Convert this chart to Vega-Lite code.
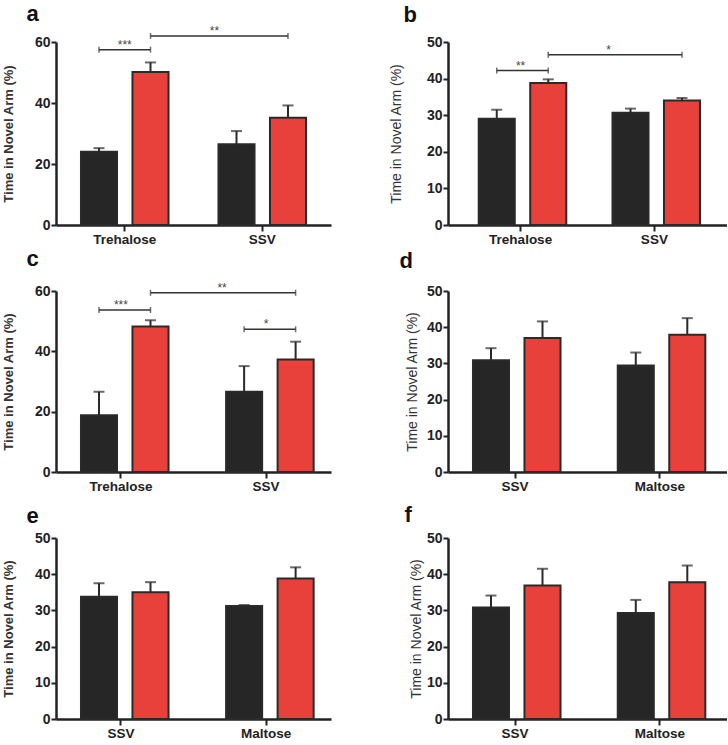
{
  "$schema": "https://vega.github.io/schema/vega-lite/v6.json",
  "padding": {"left": 2, "top": 2, "right": 0, "bottom": 0},
  "background": "white",
  "config": {
    "view": {"stroke": null},
    "axis": {"domainColor": "#222", "domainWidth": 2.5, "tickColor": "#222", "tickWidth": 2, "tickSize": 5, "labelFont": "Liberation Sans", "labelFontSize": 14, "labelFontWeight": "bold", "labelColor": "#222", "labelPadding": 1, "titleFont": "Liberation Sans", "titleColor": "#333", "titleFontSize": 13, "grid": false},
    "axisX": {"labelAngle": 0, "tickSize": 6, "labelPadding": 1, "labelFontSize": 13.5},
    "title": {"anchor": "start", "frame": "bounds", "fontSize": 22, "fontWeight": "bold", "font": "Liberation Sans", "color": "#111", "offset": 10}
  },
  "datasets": {
    "bars": [
      {"p": "a", "g": "Trehalose", "c": "Control", "mean": 24.0, "upper": 25.2},
      {"p": "a", "g": "Trehalose", "c": "Sugar", "mean": 50.2, "upper": 53.3},
      {"p": "a", "g": "SSV", "c": "Control", "mean": 26.5, "upper": 30.8},
      {"p": "a", "g": "SSV", "c": "Sugar", "mean": 35.2, "upper": 39.2},
      {"p": "b", "g": "Trehalose", "c": "Control", "mean": 29.0, "upper": 31.5},
      {"p": "b", "g": "Trehalose", "c": "Sugar", "mean": 38.8, "upper": 39.8},
      {"p": "b", "g": "SSV", "c": "Control", "mean": 30.7, "upper": 31.8},
      {"p": "b", "g": "SSV", "c": "Sugar", "mean": 34.0, "upper": 34.7},
      {"p": "c", "g": "Trehalose", "c": "Control", "mean": 18.8, "upper": 26.6},
      {"p": "c", "g": "Trehalose", "c": "Sugar", "mean": 48.2, "upper": 50.3},
      {"p": "c", "g": "SSV", "c": "Control", "mean": 26.6, "upper": 35.1},
      {"p": "c", "g": "SSV", "c": "Sugar", "mean": 37.3, "upper": 43.2},
      {"p": "d", "g": "SSV", "c": "Control", "mean": 30.9, "upper": 34.2},
      {"p": "d", "g": "SSV", "c": "Sugar", "mean": 37.0, "upper": 41.6},
      {"p": "d", "g": "Maltose", "c": "Control", "mean": 29.4, "upper": 33.0},
      {"p": "d", "g": "Maltose", "c": "Sugar", "mean": 37.9, "upper": 42.5},
      {"p": "e", "g": "SSV", "c": "Control", "mean": 33.8, "upper": 37.5},
      {"p": "e", "g": "SSV", "c": "Sugar", "mean": 35.0, "upper": 37.8},
      {"p": "e", "g": "Maltose", "c": "Control", "mean": 31.2, "upper": 31.5},
      {"p": "e", "g": "Maltose", "c": "Sugar", "mean": 38.8, "upper": 41.9},
      {"p": "f", "g": "SSV", "c": "Control", "mean": 30.8, "upper": 34.1},
      {"p": "f", "g": "SSV", "c": "Sugar", "mean": 36.9, "upper": 41.5},
      {"p": "f", "g": "Maltose", "c": "Control", "mean": 29.3, "upper": 32.9},
      {"p": "f", "g": "Maltose", "c": "Sugar", "mean": 37.8, "upper": 42.4}
    ],
    "brk": [
      {"p": "a", "id": "a1", "g": "Trehalose", "c": "Control", "y": 57.5},
      {"p": "a", "id": "a1", "g": "Trehalose", "c": "Sugar", "y": 57.5},
      {"p": "a", "id": "a2", "g": "Trehalose", "c": "Sugar", "y": 62.0},
      {"p": "a", "id": "a2", "g": "SSV", "c": "Sugar", "y": 62.0},
      {"p": "b", "id": "b1", "g": "Trehalose", "c": "Control", "y": 42.2},
      {"p": "b", "id": "b1", "g": "Trehalose", "c": "Sugar", "y": 42.2},
      {"p": "b", "id": "b2", "g": "Trehalose", "c": "Sugar", "y": 46.5},
      {"p": "b", "id": "b2", "g": "SSV", "c": "Sugar", "y": 46.5},
      {"p": "c", "id": "c1", "g": "Trehalose", "c": "Control", "y": 53.7},
      {"p": "c", "id": "c1", "g": "Trehalose", "c": "Sugar", "y": 53.7},
      {"p": "c", "id": "c2", "g": "Trehalose", "c": "Sugar", "y": 59.4},
      {"p": "c", "id": "c2", "g": "SSV", "c": "Sugar", "y": 59.4},
      {"p": "c", "id": "c3", "g": "SSV", "c": "Control", "y": 47.3},
      {"p": "c", "id": "c3", "g": "SSV", "c": "Sugar", "y": 47.3}
    ],
    "sig": [
      {"p": "a", "kind": "within", "g": "Trehalose", "c": "Control", "y": 57.5, "label": "***"},
      {"p": "a", "kind": "across", "g": "SSV", "c": "Control", "y": 62.0, "label": "**"},
      {"p": "b", "kind": "within", "g": "Trehalose", "c": "Control", "y": 42.2, "label": "**"},
      {"p": "b", "kind": "across", "g": "SSV", "c": "Control", "y": 46.5, "label": "*"},
      {"p": "c", "kind": "within", "g": "Trehalose", "c": "Control", "y": 53.7, "label": "***"},
      {"p": "c", "kind": "across", "g": "SSV", "c": "Control", "y": 59.4, "label": "**"},
      {"p": "c", "kind": "within", "g": "SSV", "c": "Control", "y": 47.3, "label": "*"}
    ]
  },
  "columns": 2,
  "spacing": {"column": 117, "row": 66},
  "bounds": "flush",
  "concat": [
    {
      "width": 275, "height": 183,
      "title": {"text": "a", "dx": 24, "offset": -1},
      "layer": [
        {"data": {"name": "bars"}, "transform": [{"filter": "datum.p == 'a'"}],
         "mark": {"type": "bar", "stroke": "#2a2a2a", "strokeWidth": 2},
         "encoding": {
           "x": {"field": "g", "type": "nominal", "title": null, "scale": {"domain": ["Trehalose", "SSV"], "paddingInner": 0, "paddingOuter": 0}},
           "xOffset": {"field": "c", "type": "nominal", "scale": {"domain": ["Control", "Sugar"], "paddingInner": 0.3, "paddingOuter": 0.485}},
           "y": {"field": "mean", "type": "quantitative", "title": "Time in Novel Arm (%)", "scale": {"domain": [0, 60], "nice": false}, "axis": {"values": [0, 20, 40, 60], "tickCount": 4, "labelOverlap": false, "titleFontWeight": "bold", "titlePadding": 19}},
           "color": {"field": "c", "type": "nominal", "scale": {"domain": ["Control", "Sugar"], "range": ["#262626", "#e8413b"]}, "legend": null}
         }},
        {"data": {"name": "bars"}, "transform": [{"filter": "datum.p == 'a'"}],
         "mark": {"type": "rule", "color": "#2a2a2a", "strokeWidth": 2},
         "encoding": {"x": {"field": "g", "type": "nominal", "title": null}, "xOffset": {"field": "c", "type": "nominal"}, "y": {"field": "mean", "type": "quantitative", "title": "Time in Novel Arm (%)", "axis": {"values": [0, 20, 40, 60], "tickCount": 4, "labelOverlap": false, "titleFontWeight": "bold", "titlePadding": 19}}, "y2": {"field": "upper"}}},
        {"data": {"name": "bars"}, "transform": [{"filter": "datum.p == 'a'"}],
         "mark": {"type": "tick", "orient": "horizontal", "size": 11, "thickness": 2, "color": "#2a2a2a"},
         "encoding": {"x": {"field": "g", "type": "nominal", "title": null}, "xOffset": {"field": "c", "type": "nominal"}, "y": {"field": "upper", "type": "quantitative", "title": "Time in Novel Arm (%)", "axis": {"values": [0, 20, 40, 60], "tickCount": 4, "labelOverlap": false, "titleFontWeight": "bold", "titlePadding": 19}}}},
        {"data": {"name": "brk"}, "transform": [{"filter": "datum.p == 'a'"}],
         "mark": {"type": "line", "color": "#333", "strokeWidth": 1.5},
         "encoding": {"x": {"field": "g", "type": "nominal", "title": null}, "xOffset": {"field": "c", "type": "nominal"}, "y": {"field": "y", "type": "quantitative", "title": "Time in Novel Arm (%)", "axis": {"values": [0, 20, 40, 60], "tickCount": 4, "labelOverlap": false, "titleFontWeight": "bold", "titlePadding": 19}}, "detail": {"field": "id"}}},
        {"data": {"name": "brk"}, "transform": [{"filter": "datum.p == 'a'"}],
         "mark": {"type": "tick", "orient": "vertical", "size": 6, "thickness": 1.5, "color": "#333"},
         "encoding": {"x": {"field": "g", "type": "nominal", "title": null}, "xOffset": {"field": "c", "type": "nominal"}, "y": {"field": "y", "type": "quantitative", "title": "Time in Novel Arm (%)", "axis": {"values": [0, 20, 40, 60], "tickCount": 4, "labelOverlap": false, "titleFontWeight": "bold", "titlePadding": 19}}}},
        {"data": {"name": "sig"}, "transform": [{"filter": "datum.p == 'a' && datum.kind == 'within'"}],
         "mark": {"type": "text", "font": "Liberation Sans", "fontSize": 12, "color": "#444", "baseline": "alphabetic", "dy": -1},
         "encoding": {"x": {"field": "g", "type": "nominal", "title": null}, "y": {"field": "y", "type": "quantitative", "title": "Time in Novel Arm (%)", "axis": {"values": [0, 20, 40, 60], "tickCount": 4, "labelOverlap": false, "titleFontWeight": "bold", "titlePadding": 19}}, "text": {"field": "label"}}},
        {"data": {"name": "sig"}, "transform": [{"filter": "datum.p == 'a' && datum.kind == 'across'"}],
         "mark": {"type": "text", "font": "Liberation Sans", "fontSize": 12, "color": "#444", "baseline": "alphabetic", "dy": -1, "dx": -22},
         "encoding": {"x": {"field": "g", "type": "nominal", "title": null}, "xOffset": {"field": "c", "type": "nominal"}, "y": {"field": "y", "type": "quantitative", "title": "Time in Novel Arm (%)", "axis": {"values": [0, 20, 40, 60], "tickCount": 4, "labelOverlap": false, "titleFontWeight": "bold", "titlePadding": 19}}, "text": {"field": "label"}}}
      ]
    },
    {
      "width": 279, "height": 183,
      "title": {"text": "b", "dx": 14, "offset": 8},
      "layer": [
        {"data": {"name": "bars"}, "transform": [{"filter": "datum.p == 'b'"}],
         "mark": {"type": "bar", "stroke": "#2a2a2a", "strokeWidth": 2},
         "encoding": {
           "x": {"field": "g", "type": "nominal", "title": null, "scale": {"domain": ["Trehalose", "SSV"], "paddingInner": 0, "paddingOuter": 0.043}},
           "xOffset": {"field": "c", "type": "nominal", "scale": {"domain": ["Control", "Sugar"], "paddingInner": 0.294, "paddingOuter": 0.46}},
           "y": {"field": "mean", "type": "quantitative", "title": "Time in Novel Arm (%)", "scale": {"domain": [0, 50], "nice": false}, "axis": {"values": [0, 10, 20, 30, 40, 50], "tickCount": 6, "labelOverlap": false, "titleFontWeight": "normal", "titleFontSize": 14, "titlePadding": 23}},
           "color": {"field": "c", "type": "nominal", "scale": {"domain": ["Control", "Sugar"], "range": ["#262626", "#e8413b"]}, "legend": null}
         }},
        {"data": {"name": "bars"}, "transform": [{"filter": "datum.p == 'b'"}],
         "mark": {"type": "rule", "color": "#2a2a2a", "strokeWidth": 2},
         "encoding": {"x": {"field": "g", "type": "nominal", "title": null}, "xOffset": {"field": "c", "type": "nominal"}, "y": {"field": "mean", "type": "quantitative", "title": "Time in Novel Arm (%)", "axis": {"values": [0, 10, 20, 30, 40, 50], "tickCount": 6, "labelOverlap": false, "titleFontWeight": "normal", "titleFontSize": 14, "titlePadding": 23}}, "y2": {"field": "upper"}}},
        {"data": {"name": "bars"}, "transform": [{"filter": "datum.p == 'b'"}],
         "mark": {"type": "tick", "orient": "horizontal", "size": 11, "thickness": 2, "color": "#2a2a2a"},
         "encoding": {"x": {"field": "g", "type": "nominal", "title": null}, "xOffset": {"field": "c", "type": "nominal"}, "y": {"field": "upper", "type": "quantitative", "title": "Time in Novel Arm (%)", "axis": {"values": [0, 10, 20, 30, 40, 50], "tickCount": 6, "labelOverlap": false, "titleFontWeight": "normal", "titleFontSize": 14, "titlePadding": 23}}}},
        {"data": {"name": "brk"}, "transform": [{"filter": "datum.p == 'b'"}],
         "mark": {"type": "line", "color": "#333", "strokeWidth": 1.5},
         "encoding": {"x": {"field": "g", "type": "nominal", "title": null}, "xOffset": {"field": "c", "type": "nominal"}, "y": {"field": "y", "type": "quantitative", "title": "Time in Novel Arm (%)", "axis": {"values": [0, 10, 20, 30, 40, 50], "tickCount": 6, "labelOverlap": false, "titleFontWeight": "normal", "titleFontSize": 14, "titlePadding": 23}}, "detail": {"field": "id"}}},
        {"data": {"name": "brk"}, "transform": [{"filter": "datum.p == 'b'"}],
         "mark": {"type": "tick", "orient": "vertical", "size": 6, "thickness": 1.5, "color": "#333"},
         "encoding": {"x": {"field": "g", "type": "nominal", "title": null}, "xOffset": {"field": "c", "type": "nominal"}, "y": {"field": "y", "type": "quantitative", "title": "Time in Novel Arm (%)", "axis": {"values": [0, 10, 20, 30, 40, 50], "tickCount": 6, "labelOverlap": false, "titleFontWeight": "normal", "titleFontSize": 14, "titlePadding": 23}}}},
        {"data": {"name": "sig"}, "transform": [{"filter": "datum.p == 'b' && datum.kind == 'within'"}],
         "mark": {"type": "text", "font": "Liberation Sans", "fontSize": 12, "color": "#444", "baseline": "alphabetic", "dy": -1},
         "encoding": {"x": {"field": "g", "type": "nominal", "title": null}, "y": {"field": "y", "type": "quantitative", "title": "Time in Novel Arm (%)", "axis": {"values": [0, 10, 20, 30, 40, 50], "tickCount": 6, "labelOverlap": false, "titleFontWeight": "normal", "titleFontSize": 14, "titlePadding": 23}}, "text": {"field": "label"}}},
        {"data": {"name": "sig"}, "transform": [{"filter": "datum.p == 'b' && datum.kind == 'across'"}],
         "mark": {"type": "text", "font": "Liberation Sans", "fontSize": 12, "color": "#444", "baseline": "alphabetic", "dy": -1, "dx": -22},
         "encoding": {"x": {"field": "g", "type": "nominal", "title": null}, "xOffset": {"field": "c", "type": "nominal"}, "y": {"field": "y", "type": "quantitative", "title": "Time in Novel Arm (%)", "axis": {"values": [0, 10, 20, 30, 40, 50], "tickCount": 6, "labelOverlap": false, "titleFontWeight": "normal", "titleFontSize": 14, "titlePadding": 23}}, "text": {"field": "label"}}}
      ]
    },
    {
      "width": 275, "height": 181,
      "title": {"text": "c", "dx": 24, "offset": 11},
      "layer": [
        {"data": {"name": "bars"}, "transform": [{"filter": "datum.p == 'c'"}],
         "mark": {"type": "bar", "stroke": "#2a2a2a", "strokeWidth": 2},
         "encoding": {
           "x": {"field": "g", "type": "nominal", "title": null, "scale": {"domain": ["Trehalose", "SSV"], "paddingInner": 0.105, "paddingOuter": 0}},
           "xOffset": {"field": "c", "type": "nominal", "scale": {"domain": ["Control", "Sugar"], "paddingInner": 0.3, "paddingOuter": 0.363}},
           "y": {"field": "mean", "type": "quantitative", "title": "Time in Novel Arm (%)", "scale": {"domain": [0, 60], "nice": false}, "axis": {"values": [0, 20, 40, 60], "tickCount": 4, "labelOverlap": false, "titleFontWeight": "bold", "titlePadding": 19}},
           "color": {"field": "c", "type": "nominal", "scale": {"domain": ["Control", "Sugar"], "range": ["#262626", "#e8413b"]}, "legend": null}
         }},
        {"data": {"name": "bars"}, "transform": [{"filter": "datum.p == 'c'"}],
         "mark": {"type": "rule", "color": "#2a2a2a", "strokeWidth": 2},
         "encoding": {"x": {"field": "g", "type": "nominal", "title": null}, "xOffset": {"field": "c", "type": "nominal"}, "y": {"field": "mean", "type": "quantitative", "title": "Time in Novel Arm (%)", "axis": {"values": [0, 20, 40, 60], "tickCount": 4, "labelOverlap": false, "titleFontWeight": "bold", "titlePadding": 19}}, "y2": {"field": "upper"}}},
        {"data": {"name": "bars"}, "transform": [{"filter": "datum.p == 'c'"}],
         "mark": {"type": "tick", "orient": "horizontal", "size": 11, "thickness": 2, "color": "#2a2a2a"},
         "encoding": {"x": {"field": "g", "type": "nominal", "title": null}, "xOffset": {"field": "c", "type": "nominal"}, "y": {"field": "upper", "type": "quantitative", "title": "Time in Novel Arm (%)", "axis": {"values": [0, 20, 40, 60], "tickCount": 4, "labelOverlap": false, "titleFontWeight": "bold", "titlePadding": 19}}}},
        {"data": {"name": "brk"}, "transform": [{"filter": "datum.p == 'c'"}],
         "mark": {"type": "line", "color": "#333", "strokeWidth": 1.5},
         "encoding": {"x": {"field": "g", "type": "nominal", "title": null}, "xOffset": {"field": "c", "type": "nominal"}, "y": {"field": "y", "type": "quantitative", "title": "Time in Novel Arm (%)", "axis": {"values": [0, 20, 40, 60], "tickCount": 4, "labelOverlap": false, "titleFontWeight": "bold", "titlePadding": 19}}, "detail": {"field": "id"}}},
        {"data": {"name": "brk"}, "transform": [{"filter": "datum.p == 'c'"}],
         "mark": {"type": "tick", "orient": "vertical", "size": 6, "thickness": 1.5, "color": "#333"},
         "encoding": {"x": {"field": "g", "type": "nominal", "title": null}, "xOffset": {"field": "c", "type": "nominal"}, "y": {"field": "y", "type": "quantitative", "title": "Time in Novel Arm (%)", "axis": {"values": [0, 20, 40, 60], "tickCount": 4, "labelOverlap": false, "titleFontWeight": "bold", "titlePadding": 19}}}},
        {"data": {"name": "sig"}, "transform": [{"filter": "datum.p == 'c' && datum.kind == 'within'"}],
         "mark": {"type": "text", "font": "Liberation Sans", "fontSize": 12, "color": "#444", "baseline": "alphabetic", "dy": -1},
         "encoding": {"x": {"field": "g", "type": "nominal", "title": null}, "y": {"field": "y", "type": "quantitative", "title": "Time in Novel Arm (%)", "axis": {"values": [0, 20, 40, 60], "tickCount": 4, "labelOverlap": false, "titleFontWeight": "bold", "titlePadding": 19}}, "text": {"field": "label"}}},
        {"data": {"name": "sig"}, "transform": [{"filter": "datum.p == 'c' && datum.kind == 'across'"}],
         "mark": {"type": "text", "font": "Liberation Sans", "fontSize": 12, "color": "#444", "baseline": "alphabetic", "dy": -1, "dx": -22},
         "encoding": {"x": {"field": "g", "type": "nominal", "title": null}, "xOffset": {"field": "c", "type": "nominal"}, "y": {"field": "y", "type": "quantitative", "title": "Time in Novel Arm (%)", "axis": {"values": [0, 20, 40, 60], "tickCount": 4, "labelOverlap": false, "titleFontWeight": "bold", "titlePadding": 19}}, "text": {"field": "label"}}}
      ]
    },
    {
      "width": 279, "height": 181,
      "title": {"text": "d", "dx": -6, "offset": 11},
      "layer": [
        {"data": {"name": "bars"}, "transform": [{"filter": "datum.p == 'd'"}],
         "mark": {"type": "bar", "stroke": "#2a2a2a", "strokeWidth": 2},
         "encoding": {
           "x": {"field": "g", "type": "nominal", "title": null, "scale": {"domain": ["SSV", "Maltose"], "paddingInner": 0.073, "paddingOuter": 0}},
           "xOffset": {"field": "c", "type": "nominal", "scale": {"domain": ["Control", "Sugar"], "paddingInner": 0.3, "paddingOuter": 0.41}},
           "y": {"field": "mean", "type": "quantitative", "title": "Time in Novel Arm (%)", "scale": {"domain": [0, 50], "nice": false}, "axis": {"values": [0, 10, 20, 30, 40, 50], "tickCount": 6, "labelOverlap": false, "titleFontWeight": "normal", "titleFontSize": 14, "titlePadding": 7}},
           "color": {"field": "c", "type": "nominal", "scale": {"domain": ["Control", "Sugar"], "range": ["#262626", "#e8413b"]}, "legend": null}
         }},
        {"data": {"name": "bars"}, "transform": [{"filter": "datum.p == 'd'"}],
         "mark": {"type": "rule", "color": "#2a2a2a", "strokeWidth": 2},
         "encoding": {"x": {"field": "g", "type": "nominal", "title": null}, "xOffset": {"field": "c", "type": "nominal"}, "y": {"field": "mean", "type": "quantitative", "title": "Time in Novel Arm (%)", "axis": {"values": [0, 10, 20, 30, 40, 50], "tickCount": 6, "labelOverlap": false, "titleFontWeight": "normal", "titleFontSize": 14, "titlePadding": 7}}, "y2": {"field": "upper"}}},
        {"data": {"name": "bars"}, "transform": [{"filter": "datum.p == 'd'"}],
         "mark": {"type": "tick", "orient": "horizontal", "size": 11, "thickness": 2, "color": "#2a2a2a"},
         "encoding": {"x": {"field": "g", "type": "nominal", "title": null}, "xOffset": {"field": "c", "type": "nominal"}, "y": {"field": "upper", "type": "quantitative", "title": "Time in Novel Arm (%)", "axis": {"values": [0, 10, 20, 30, 40, 50], "tickCount": 6, "labelOverlap": false, "titleFontWeight": "normal", "titleFontSize": 14, "titlePadding": 7}}}}
      ]
    },
    {
      "width": 275, "height": 181,
      "title": {"text": "e", "dx": 24, "offset": 3.5},
      "layer": [
        {"data": {"name": "bars"}, "transform": [{"filter": "datum.p == 'e'"}],
         "mark": {"type": "bar", "stroke": "#2a2a2a", "strokeWidth": 2},
         "encoding": {
           "x": {"field": "g", "type": "nominal", "title": null, "scale": {"domain": ["SSV", "Maltose"], "paddingInner": 0.105, "paddingOuter": 0}},
           "xOffset": {"field": "c", "type": "nominal", "scale": {"domain": ["Control", "Sugar"], "paddingInner": 0.3, "paddingOuter": 0.363}},
           "y": {"field": "mean", "type": "quantitative", "title": "Time in Novel Arm (%)", "scale": {"domain": [0, 50], "nice": false}, "axis": {"values": [0, 10, 20, 30, 40, 50], "tickCount": 6, "labelOverlap": false, "titleFontWeight": "bold", "titlePadding": 19}},
           "color": {"field": "c", "type": "nominal", "scale": {"domain": ["Control", "Sugar"], "range": ["#262626", "#e8413b"]}, "legend": null}
         }},
        {"data": {"name": "bars"}, "transform": [{"filter": "datum.p == 'e'"}],
         "mark": {"type": "rule", "color": "#2a2a2a", "strokeWidth": 2},
         "encoding": {"x": {"field": "g", "type": "nominal", "title": null}, "xOffset": {"field": "c", "type": "nominal"}, "y": {"field": "mean", "type": "quantitative", "title": "Time in Novel Arm (%)", "axis": {"values": [0, 10, 20, 30, 40, 50], "tickCount": 6, "labelOverlap": false, "titleFontWeight": "bold", "titlePadding": 19}}, "y2": {"field": "upper"}}},
        {"data": {"name": "bars"}, "transform": [{"filter": "datum.p == 'e'"}],
         "mark": {"type": "tick", "orient": "horizontal", "size": 11, "thickness": 2, "color": "#2a2a2a"},
         "encoding": {"x": {"field": "g", "type": "nominal", "title": null}, "xOffset": {"field": "c", "type": "nominal"}, "y": {"field": "upper", "type": "quantitative", "title": "Time in Novel Arm (%)", "axis": {"values": [0, 10, 20, 30, 40, 50], "tickCount": 6, "labelOverlap": false, "titleFontWeight": "bold", "titlePadding": 19}}}}
      ]
    },
    {
      "width": 279, "height": 181,
      "title": {"text": "f", "dx": -5, "offset": 4},
      "layer": [
        {"data": {"name": "bars"}, "transform": [{"filter": "datum.p == 'f'"}],
         "mark": {"type": "bar", "stroke": "#2a2a2a", "strokeWidth": 2},
         "encoding": {
           "x": {"field": "g", "type": "nominal", "title": null, "scale": {"domain": ["SSV", "Maltose"], "paddingInner": 0.073, "paddingOuter": 0}},
           "xOffset": {"field": "c", "type": "nominal", "scale": {"domain": ["Control", "Sugar"], "paddingInner": 0.3, "paddingOuter": 0.41}},
           "y": {"field": "mean", "type": "quantitative", "title": "Time in Novel Arm (%)", "scale": {"domain": [0, 50], "nice": false}, "axis": {"values": [0, 10, 20, 30, 40, 50], "tickCount": 6, "labelOverlap": false, "titleFontWeight": "normal", "titleFontSize": 14, "titlePadding": 3}},
           "color": {"field": "c", "type": "nominal", "scale": {"domain": ["Control", "Sugar"], "range": ["#262626", "#e8413b"]}, "legend": null}
         }},
        {"data": {"name": "bars"}, "transform": [{"filter": "datum.p == 'f'"}],
         "mark": {"type": "rule", "color": "#2a2a2a", "strokeWidth": 2},
         "encoding": {"x": {"field": "g", "type": "nominal", "title": null}, "xOffset": {"field": "c", "type": "nominal"}, "y": {"field": "mean", "type": "quantitative", "title": "Time in Novel Arm (%)", "axis": {"values": [0, 10, 20, 30, 40, 50], "tickCount": 6, "labelOverlap": false, "titleFontWeight": "normal", "titleFontSize": 14, "titlePadding": 3}}, "y2": {"field": "upper"}}},
        {"data": {"name": "bars"}, "transform": [{"filter": "datum.p == 'f'"}],
         "mark": {"type": "tick", "orient": "horizontal", "size": 11, "thickness": 2, "color": "#2a2a2a"},
         "encoding": {"x": {"field": "g", "type": "nominal", "title": null}, "xOffset": {"field": "c", "type": "nominal"}, "y": {"field": "upper", "type": "quantitative", "title": "Time in Novel Arm (%)", "axis": {"values": [0, 10, 20, 30, 40, 50], "tickCount": 6, "labelOverlap": false, "titleFontWeight": "normal", "titleFontSize": 14, "titlePadding": 3}}}}
      ]
    }
  ]
}
